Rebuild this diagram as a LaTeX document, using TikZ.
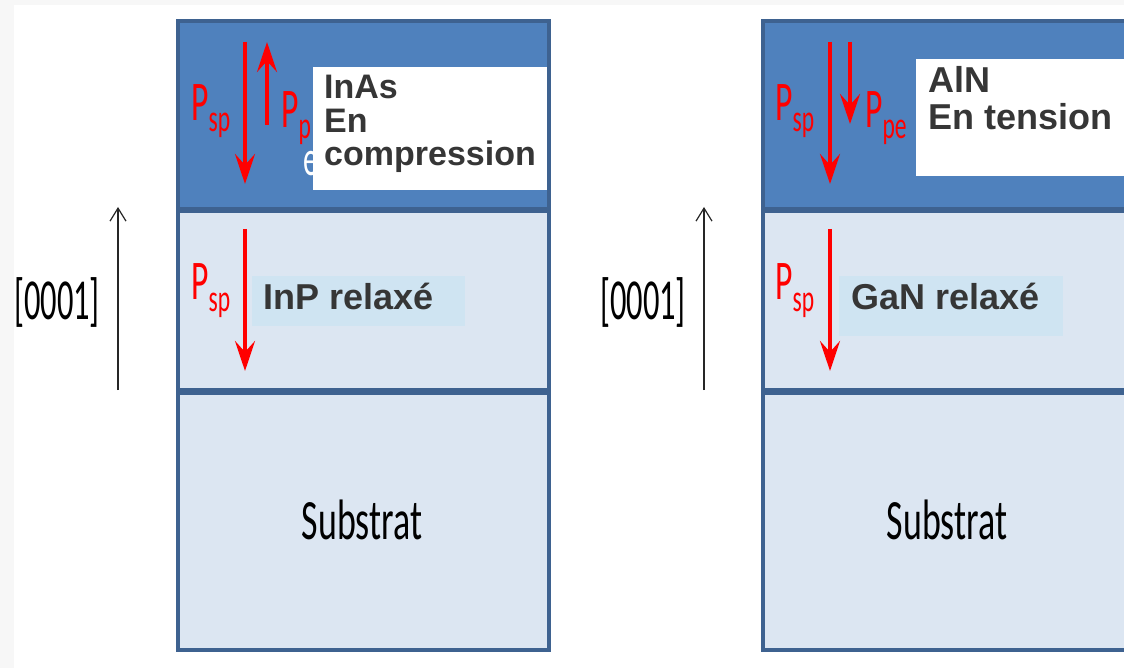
\documentclass[tikz,border=0pt]{standalone}
\usepackage{fontspec}
\usepackage{graphicx}
\setmainfont{Carlito}
\newfontfamily\lsb{Liberation Sans}
\usetikzlibrary{arrows.meta}
\definecolor{topblue}{HTML}{4F81BD}
\definecolor{edgeblue}{HTML}{3E6290}
\definecolor{midfill}{HTML}{DCE6F2}
\definecolor{lbox}{HTML}{CFE4F2}
\definecolor{txt}{HTML}{363636}
\definecolor{paper}{HTML}{F7F7F7}
\newcommand\nt[3]{\scalebox{#1}[1]{\fontsize{#2}{#2}\selectfont #3}}
\newcommand\Plab[2]{\nt{0.6}{56}{P}\raisebox{-#2pt}{\nt{0.62}{38}{#1}}}
\tikzset{
  layertop/.style={fill=topblue},
  layermid/.style={fill=midfill},
  border/.style={draw=edgeblue, line width=3.5pt},
  polar/.style={draw=red, line width=4pt, -{Stealth[length=30pt,width=20pt,inset=11pt]}},
  axisarrow/.style={draw=black!85, line width=1.2pt, -{Straight Barb[length=13pt,width=16pt]}},
  boldlab/.style={inner sep=0pt, anchor=base west, text=txt, font=\lsb\bfseries\fontsize{36}{40}\selectfont},
  boldsmall/.style={boldlab, font=\lsb\bfseries\fontsize{34}{38}\selectfont},
  redlab/.style={inner sep=0pt, anchor=base west, text=red},
  blacklab/.style={inner sep=0pt, text=black},
}
\begin{document}
\begin{tikzpicture}[x=1pt,y=-1pt]
\useasboundingbox (0,0) rectangle (1124,668);
\fill[white] (0,0) rectangle (1124,668);
\fill[paper] (0,0) rectangle (14,668);
\fill[paper] (0,0) rectangle (1124,5);

% ---------- left stack ----------
\fill[layertop] (178,21) rectangle (549,209);
\fill[layermid] (178,211) rectangle (549,390);
\fill[layermid] (178,393) rectangle (549,650);
% ---------- right stack ----------
\fill[layertop] (763,21) rectangle (1140,209);
\fill[layermid] (763,211) rectangle (1140,390);
\fill[layermid] (763,393) rectangle (1140,650);

% white "e" fragment behind the box
\node[inner sep=0pt, anchor=base west, text=white] (efrag) at (303,176) {\nt{0.6}{50}{e}};

% text boxes
\fill[white] (313,67) rectangle (548,190);
\fill[white] (916,59) rectangle (1140,176);
\fill[lbox] (252,276) rectangle (465,326);
\fill[lbox] (839,276) rectangle (1063,336);

% borders
\draw[border] (178,21) rectangle (549,209);
\draw[border] (178,211) rectangle (549,390);
\draw[border] (178,393) rectangle (549,650);
\draw[border] (763,21) rectangle (1140,209);
\draw[border] (763,211) rectangle (1140,390);
\draw[border] (763,393) rectangle (1140,650);

% texts in boxes
\node[boldsmall] (inas) at (324,99) {InAs};
\node[boldsmall] (inasen) at (324,133) {En};
\node[boldsmall] (inascomp) at (324,166) {compression};
\node[boldlab] (aln) at (928,93) {AlN};
\node[boldlab] (alnten) at (928,130) {En tension};
\node[boldlab] (inp) at (263,309) {InP relax\'e};
\node[boldlab] (gan) at (851,309) {GaN relax\'e};

% substrate labels
\node[blacklab] (subL) at (362,520) {\nt{0.63}{57}{Substrat}};
\node[blacklab] (subR) at (947,520) {\nt{0.63}{57}{Substrat}};

% [0001] axes
\node[blacklab] (dirL) at (57,302) {\nt{0.56}{58}{[0001]}};
\node[blacklab] (dirR) at (643,302) {\nt{0.56}{58}{[0001]}};
\coordinate (axL0) at (118,390); \coordinate (axL1) at (118,207);
\coordinate (axR0) at (704,390); \coordinate (axR1) at (704,207);
\draw[axisarrow] (axL0) -- (axL1);
\draw[axisarrow] (axR0) -- (axR1);

% red polarisation arrows, left
\coordinate (lsp0) at (245,42);  \coordinate (lsp1) at (245,184);
\coordinate (lpe0) at (267,125); \coordinate (lpe1) at (267,42);
\coordinate (lms0) at (245,229); \coordinate (lms1) at (245,371);
\draw[polar] (lsp0) -- (lsp1);
\draw[polar] (lpe0) -- (lpe1);
\draw[polar] (lms0) -- (lms1);
% red polarisation arrows, right
\coordinate (rsp0) at (830,42);  \coordinate (rsp1) at (830,184);
\coordinate (rpe0) at (850,42);  \coordinate (rpe1) at (850,124);
\coordinate (rms0) at (830,229); \coordinate (rms1) at (830,371);
\draw[polar] (rsp0) -- (rsp1);
\draw[polar] (rpe0) -- (rpe1);
\draw[polar] (rms0) -- (rms1);

% red labels
\node[redlab] (Lpsp) at (191,121) {\Plab{sp}{11}};
\node[redlab] (Lppe) at (281,128) {\Plab{p}{11}};
\node[redlab] (Lmsp) at (191,300) {\Plab{sp}{11}};
\node[redlab] (Rpsp) at (775,121) {\Plab{sp}{11}};
\node[redlab] (Rppe) at (865,128) {\Plab{pe}{11}};
\node[redlab] (Rmsp) at (775,300) {\Plab{sp}{11}};
\end{tikzpicture}
\end{document}
